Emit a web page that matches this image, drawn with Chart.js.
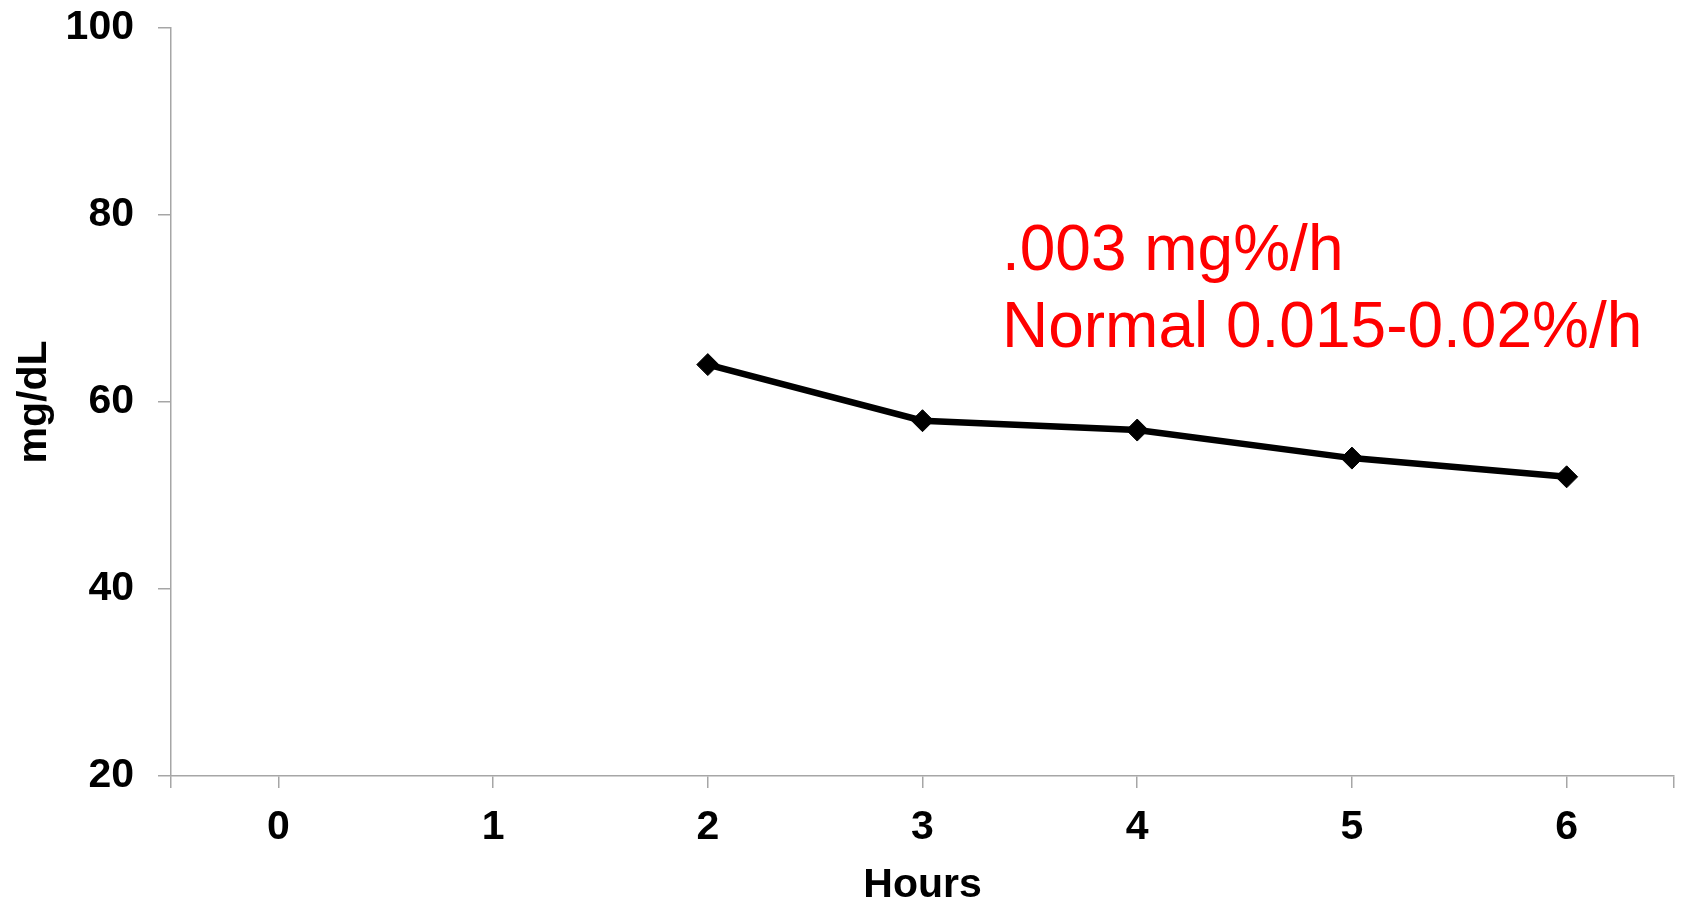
<!DOCTYPE html>
<html>
<head>
<meta charset="utf-8">
<script src="https://cdn.jsdelivr.net/npm/chart.js@4/dist/chart.umd.min.js"></script>
<style>
  html, body { margin: 0; padding: 0; background: #fff; }
  #wrap { width: 1683px; height: 904px; }
</style>
</head>
<body>
<div id="wrap"><canvas id="chart"></canvas></div>
<script>
// values
const hours = [2, 3, 4, 5, 6]
const glucose = [64, 58, 57, 54, 52]
const xTicks = [0, 1, 2, 3, 4, 5, 6]
const yTicks = [20, 40, 60, 80, 100]
const noteLines = ['.003 mg%/h', 'Normal 0.015-0.02%/h']

const FONT = "'Liberation Sans', Arial, sans-serif"
const axisGrey = '#a6a6a6'

// red annotation, anchored to data coordinates
const notePlugin = {
    id: 'note',
    afterDraw(chart) {
        const ctx = chart.ctx
        const x = chart.scales.x.getPixelForValue(3.37)
        const y = chart.scales.y.getPixelForValue(74.1)
        ctx.save()
        ctx.fillStyle = '#ff0000'
        ctx.font = '64px ' + FONT
        ctx.textBaseline = 'alphabetic'
        ctx.textAlign = 'left'
        noteLines.forEach((t, i) => ctx.fillText(t, x, y + i * 77))
        ctx.restore()
    }
}

const xMin = xTicks[0] - 0.5
const xMax = xTicks[xTicks.length - 1] + 0.5

// note: chart.js counts tick padding twice when sizing an axis,
// so the gaps are made mostly with lineHeight instead
new Chart(document.getElementById('chart'), {
    type: 'line',
    data: {
        datasets: [{
            data: hours.map((h, i) => ({x: h, y: glucose[i]})),
            borderColor: '#000',
            backgroundColor: '#000',
            borderWidth: 6.5,
            pointStyle: 'rectRot',
            pointRadius: 11,
            pointBorderWidth: 1,
            tension: 0
        }]
    },
    plugins: [notePlugin],
    options: {
        responsive: true,
        maintainAspectRatio: false,
        animation: false,
        layout: {autoPadding: false, padding: {top: 28, left: 0, right: 9, bottom: 0}},
        plugins: {legend: {display: false}, tooltip: {enabled: false}},
        scales: {
            x: {
                type: 'linear',
                min: xMin,
                max: xMax,
                afterBuildTicks: s => {
                    s.ticks = [xMin, ...xTicks, xMax].map(v => ({value: v}))
                },
                border: {color: axisGrey, width: 1.5},
                grid: {drawOnChartArea: false, color: axisGrey, lineWidth: 1.5, tickLength: 12},
                ticks: {
                    color: '#000',
                    padding: 8,
                    font: {family: FONT, size: 41, weight: 'bold', lineHeight: 63 / 41},
                    callback: v => xTicks.includes(v) ? String(v) : ''
                },
                title: {
                    display: true,
                    text: 'Hours',
                    color: '#000',
                    padding: 0,
                    font: {family: FONT, size: 41, weight: 'bold', lineHeight: 37 / 41}
                }
            },
            y: {
                min: yTicks[0],
                max: yTicks[yTicks.length - 1],
                afterBuildTicks: s => {
                    s.ticks = yTicks.map(v => ({value: v}))
                },
                border: {color: axisGrey, width: 1.5},
                grid: {drawOnChartArea: false, color: axisGrey, lineWidth: 1.5, tickLength: 13},
                ticks: {
                    color: '#000',
                    padding: 24,
                    font: {family: FONT, size: 41, weight: 'bold', lineHeight: 0.15}
                },
                title: {
                    display: true,
                    text: 'mg/dL',
                    color: '#000',
                    padding: {top: 27.6, bottom: 0},
                    font: {family: FONT, size: 41, weight: 'bold', lineHeight: 14 / 41}
                }
            }
        }
    }
})
</script>
</body>
</html>
